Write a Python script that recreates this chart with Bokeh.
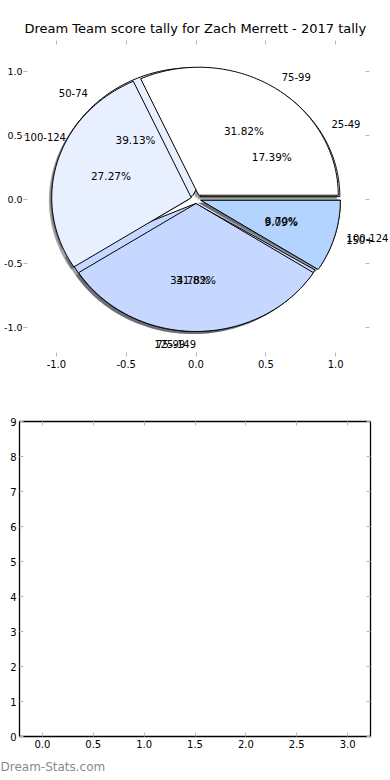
import numpy as np
from bokeh.plotting import figure
from bokeh.models import (ColumnDataSource, Label, Range1d, LinearAxis, FixedTicker,
                          CustomJSTickFormatter, Title)
from bokeh.embed import file_html
from bokeh.resources import INLINE
from bokeh.core.properties import value

# ---------------- data ----------------
title_text = "Dream Team score tally for Zach Merrett - 2017 tally"
labels_a = ["75-99", "100-124", "125-149", "150+"]
counts_a = [7, 6, 7, 2]
labels_b = ["25-49", "50-74", "75-99", "100-124"]
counts_b = [4, 9, 8, 2]
wedge_colors = ["#ffffff", "#e8efff", "#c6d8ff", "#b3d4ff"]
pie_ticks = [-1.0, -0.5, 0.0, 0.5, 1.0]
bar_x_ticks = [0.0, 0.5, 1.0, 1.5, 2.0, 2.5, 3.0]
bar_y_ticks = [0, 1, 2, 3, 4, 5, 6, 7, 8, 9]
watermark = "Dream-Stats.com"

# ---------------- pie style ----------------
EXPLODE = 0.035
SHADOW_OFF = -0.02
LABEL_DIST = 1.1
PCT_DIST = 0.6
FONT = "DejaVu Sans"


def pie_geometry(counts, labels, colors):
    total = float(sum(counts))
    fr = np.array(counts, dtype=float) / total
    t2 = np.cumsum(fr) * 360.0
    t1 = t2 - fr * 360.0
    out = dict(xs=[], ys=[], sxs=[], sys=[], color=[], shadow=[],
               lx=[], ly=[], ltext=[], lalign=[], px=[], py=[], ptext=[])
    for i in range(len(counts)):
        mid = np.deg2rad((t1[i] + t2[i]) / 2.0)
        cx = EXPLODE * np.cos(mid)
        cy = EXPLODE * np.sin(mid)
        th = np.deg2rad(np.linspace(t1[i], t2[i], 90))
        xs = np.concatenate([[cx], cx + np.cos(th), [cx]])
        ys = np.concatenate([[cy], cy + np.sin(th), [cy]])
        out["xs"].append(list(xs))
        out["ys"].append(list(ys))
        out["sxs"].append(list(xs + SHADOW_OFF))
        out["sys"].append(list(ys + SHADOW_OFF))
        c = colors[i % len(colors)]
        out["color"].append(c)
        r, g, b = int(c[1:3], 16), int(c[3:5], 16), int(c[5:7], 16)
        out["shadow"].append("#%02x%02x%02x" % (int(r * 0.3), int(g * 0.3), int(b * 0.3)))
        xt = cx + LABEL_DIST * np.cos(mid)
        yt = cy + LABEL_DIST * np.sin(mid)
        out["lx"].append(float(xt))
        out["ly"].append(float(yt))
        out["ltext"].append(labels[i])
        out["lalign"].append("left" if xt > 0 else "right")
        out["px"].append(cx + PCT_DIST * np.cos(mid))
        out["py"].append(cy + PCT_DIST * np.sin(mid))
        out["ptext"].append("%.2f%%" % (100.0 * fr[i]))
    return out


geo_a = pie_geometry(counts_a, labels_a, wedge_colors)
geo_b = pie_geometry(counts_b, labels_b, wedge_colors)

# ---------------- pie figure ----------------
PX_PER_X = 140.0
PX_PER_Y = 128.0
W, H1 = 390, 380
left_b, right_b, top_b, bot_b = 22, 0, 40, 24
ZX, ZY = 195.0, 198.5            # canvas pixel of the pie origin
x0 = (left_b - ZX) / PX_PER_X
x1 = (W - right_b - ZX) / PX_PER_X
y1 = (ZY - top_b) / PX_PER_Y
y0 = -((H1 - bot_b) - ZY) / PX_PER_Y
right_axis_at = (369 - ZX) / PX_PER_X

p1 = figure(width=W, height=H1, x_range=Range1d(x0, x1), y_range=Range1d(y0, y1),
            output_backend="svg", toolbar_location=None,
            min_border_left=left_b, min_border_right=right_b,
            min_border_top=top_b, min_border_bottom=bot_b)
p1.outline_line_color = None
p1.grid.visible = False
p1.background_fill_color = "white"
p1.border_fill_color = "white"
p1.title.text = title_text
p1.title.align = "left"
p1.title.offset = 1
p1.title.text_font = FONT
p1.title.text_font_size = "13px"
p1.title.text_font_style = "normal"
p1.title.text_color = "black"

fmt1 = CustomJSTickFormatter(code="return tick.toFixed(1);")
blank = CustomJSTickFormatter(code="return '';")


def style_axis(ax, ticks, fmt, labels=True, standoff=3, size="10px"):
    ax.ticker = FixedTicker(ticks=ticks)
    ax.formatter = fmt if labels else blank
    ax.axis_label = None
    ax.axis_label_standoff = 0
    ax.axis_label_text_font_size = "0px"
    ax.axis_line_color = None
    ax.major_tick_in = 4
    ax.major_tick_out = 0
    ax.major_tick_line_color = "#b8b8b8"
    ax.major_tick_line_width = 1
    ax.minor_tick_line_color = None
    ax.major_label_text_font = FONT
    ax.major_label_text_font_size = size if labels else "0px"
    ax.major_label_text_color = "black"
    ax.major_label_standoff = standoff if labels else 0


style_axis(p1.xaxis[0], pie_ticks, fmt1)
style_axis(p1.yaxis[0], pie_ticks, fmt1, standoff=1, size="9.5px")
p1.add_layout(LinearAxis(), "above")
p1.add_layout(LinearAxis(fixed_location=right_axis_at), "right")
style_axis(p1.above[-1], pie_ticks, blank, labels=False)
style_axis(p1.right[-1], pie_ticks, blank, labels=False)

# shadows (behind everything), then pie B, then pie A
for g in (geo_b, geo_a):
    p1.patches(xs=g["sxs"], ys=g["sys"], fill_color=g["shadow"], fill_alpha=0.5,
               line_color=None)
for g in (geo_b, geo_a):
    src = ColumnDataSource(dict(xs=g["xs"], ys=g["ys"], color=g["color"]))
    p1.patches(xs="xs", ys="ys", fill_color="color", line_color="black",
               line_width=1, source=src)

for g in (geo_b, geo_a):
    psrc = ColumnDataSource(dict(x=g["px"], y=g["py"], t=g["ptext"]))
    p1.text(x="x", y="y", text="t", source=psrc, text_align="center",
            text_baseline="middle", text_font=value(FONT), text_font_size="10.5px",
            text_color="black")
    for i in range(len(g["ltext"])):
        # keep the outer labels inside the visible frame
        xoff, yoff = 0, 0
        if g["lalign"][i] == "left" and g["lx"][i] > 1.0:
            xoff = -2
        if g["lalign"][i] == "right" and g["lx"][i] < -1.0:
            xoff, yoff = 22, 21
        p1.add_layout(Label(x=g["lx"][i], y=g["ly"][i], text=g["ltext"][i],
                            text_align=g["lalign"][i], text_baseline="middle",
                            x_offset=xoff, y_offset=yoff, text_font=FONT,
                            text_font_size="10px", text_color="black"))

# ---------------- empty bar axes ----------------
H2 = 780 - H1
p2 = figure(width=W, height=H2, x_range=Range1d(-0.225, 3.225), y_range=Range1d(0, 9),
            output_backend="svg", toolbar_location=None,
            min_border_left=19, min_border_right=20, min_border_top=41, min_border_bottom=40)
p2.grid.visible = False
p2.outline_line_color = "black"
p2.outline_line_width = 1.3
p2.background_fill_color = "white"
p2.border_fill_color = "white"
fmtx = CustomJSTickFormatter(code="return tick.toFixed(1);")
fmty = CustomJSTickFormatter(code="return tick.toFixed(0);")
style_axis(p2.xaxis[0], bar_x_ticks, fmtx)
style_axis(p2.yaxis[0], bar_y_ticks, fmty)
p2.add_layout(LinearAxis(), "above")
p2.add_layout(LinearAxis(), "right")
style_axis(p2.above[-1], bar_x_ticks, blank, labels=False)
style_axis(p2.right[-1], bar_y_ticks, blank, labels=False)
p2.add_layout(Title(text=watermark, align="left", offset=-19, text_font=FONT,
                    text_font_size="12px", text_font_style="normal",
                    text_color="#8a8a8a", standoff=14), "below")

# two independent roots, stacked, so their frames are laid out separately
open("out.html", "w").write(file_html([p1, p2], INLINE))
